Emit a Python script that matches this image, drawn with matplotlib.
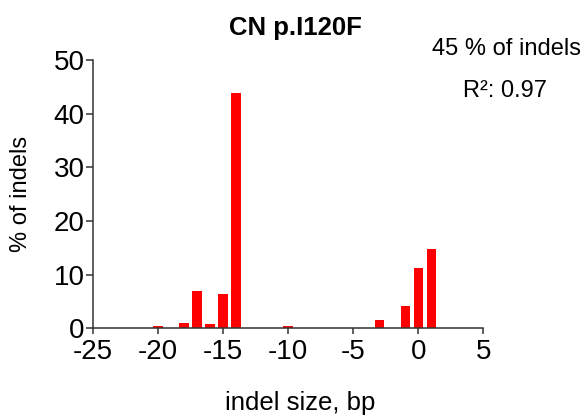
import matplotlib
matplotlib.use("Agg")
import matplotlib.pyplot as plt

plt.rcParams['font.family'] = ['Liberation Sans', 'DejaVu Sans']
plt.rcParams['axes.unicode_minus'] = False

# Data
indel_sizes = [-20, -18, -17, -16, -15, -14, -10, -3, -1, 0, 1]
pct_indels = [0.5, 1.0, 7.0, 0.8, 6.3, 43.8, 0.5, 1.5, 4.2, 11.3, 14.8]
x_ticks = [-25, -20, -15, -10, -5, 0, 5]
x_tick_labels = ["-25", "-20", "-15", "-10", "-5", "0", "5"]
y_ticks = [0, 10, 20, 30, 40, 50]
y_tick_labels = ["0", "10", "20", "30", "40", "50"]
title = "CN p.I120F"
note_pct = "45 % of indels"
note_r2 = "R²: 0.97"

W, H = 586, 417
fig = plt.figure(figsize=(W / 100, H / 100), dpi=100)
ax = fig.add_axes([93 / W, 1 - 328.3 / H, (483.3 - 93) / W, (328.3 - 60) / H])

ax.bar(indel_sizes, pct_indels, width=0.72, color="#ff0000", edgecolor="none")

ax.set_xlim(-25, 5)
ax.set_ylim(0, 50)
ax.set_xticks(x_ticks)
ax.set_xticklabels(x_tick_labels)
ax.set_yticks(y_ticks)
ax.set_yticklabels(y_tick_labels)

for s in ["top", "right"]:
    ax.spines[s].set_visible(False)
for s in ["left", "bottom"]:
    ax.spines[s].set_linewidth(1.1)
    ax.spines[s].set_color("#333333")

ax.tick_params(axis="x", direction="out", length=4, width=1.1, color="#333333",
               labelsize=20, pad=4)
ax.tick_params(axis="y", direction="out", length=5, width=1.1, color="#333333",
               labelsize=20, pad=1)

fig.text(295 / W, 1 - 35 / H, title, ha="center", va="baseline",
         fontsize=18.5, fontweight="bold")
fig.text(506 / W, 1 - 55 / H, note_pct, ha="center", va="baseline", fontsize=17)
fig.text(505 / W, 1 - 97 / H, note_r2, ha="center", va="baseline", fontsize=17)

fig.text(300 / W, 1 - 410 / H, "indel size, bp", ha="center", va="baseline",
         fontsize=18.5)
fig.text(21 / W, 1 - 194 / H, "% of indels", ha="center", va="center",
         rotation=90, fontsize=17)

fig.savefig("out.png", dpi=100)
